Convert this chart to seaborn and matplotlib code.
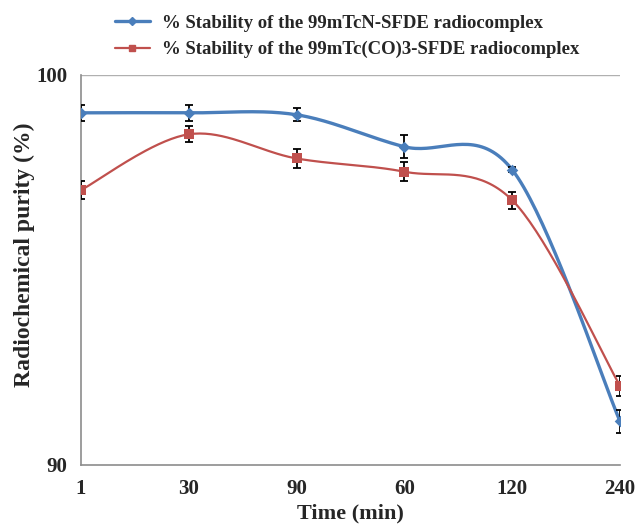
import numpy as np
import pandas as pd
import matplotlib
matplotlib.use("Agg")
import matplotlib.pyplot as plt
from matplotlib.lines import Line2D
import seaborn as sns

# data
time_labels = ["1", "30", "90", "60", "120", "240"]
tcn_sfde = [99.03, 99.03, 98.98, 98.16, 97.57, 91.12]
tcn_sfde_err = [0.20, 0.20, 0.17, 0.30, 0.06, 0.30]
tcco_sfde = [97.05, 98.48, 97.86, 97.52, 96.79, 92.03]
tcco_sfde_err = [0.22, 0.20, 0.25, 0.25, 0.22, 0.25]

BLUE = "#4A7EBB"
RED = "#C0504D"
GRAY = "#8C8C8C"


def excel_smooth(values, n=40):
    """Bezier smoothing like Excel's 'smoothed line' option."""
    x = np.arange(len(values), dtype=float)
    pts = np.column_stack([x, np.asarray(values, dtype=float)])
    ext = np.vstack([pts[0], pts, pts[-1]])
    t = np.linspace(0, 1, n)[:, None]
    out = []
    for i in range(len(pts) - 1):
        p0, p3 = ext[i + 1], ext[i + 2]
        p1 = p0 + (ext[i + 2] - ext[i]) / 6
        p2 = p3 - (ext[i + 3] - ext[i + 1]) / 6
        seg = (1 - t) ** 3 * p0 + 3 * (1 - t) ** 2 * t * p1 + 3 * (1 - t) * t ** 2 * p2 + t ** 3 * p3
        out.append(seg if i == 0 else seg[1:])
    return np.vstack(out)


sns.set_style("white")
plt.rcParams["font.family"] = ["Liberation Serif", "DejaVu Serif"]
plt.rcParams["font.weight"] = "bold"

fig = plt.figure(figsize=(6.36, 5.26), dpi=100)
ax = fig.add_axes([81 / 636, 1 - 465 / 526, (620 - 81) / 636, (465 - 75) / 526])

ax.axhline(100, color="#B0B0B0", lw=1, zorder=0)

series = [
    (tcn_sfde, tcn_sfde_err, BLUE, "D", 2.4, 5),
    (tcco_sfde, tcco_sfde_err, RED, "s", 1.6, 5.5),
]
xpos = np.arange(len(time_labels))
for vals, errs, color, marker, lw, ms in series:
    curve = excel_smooth(vals)
    sns.lineplot(x=curve[:, 0], y=curve[:, 1], sort=False, color=color, lw=lw, ax=ax, zorder=2)
    ax.errorbar(xpos, vals, yerr=errs, fmt="none", ecolor="black", elinewidth=1.3,
                capsize=3, capthick=1.3, zorder=3)
    df = pd.DataFrame({"x": xpos, "y": vals})
    sns.scatterplot(data=df, x="x", y="y", marker=marker, color=color, s=ms ** 2 * 1.4,
                    edgecolor=color, linewidth=0, ax=ax, zorder=4)

ax.set_xlim(0, len(time_labels) - 1)
ax.set_ylim(90, 100)
ax.set_xticks(xpos)
ax.set_xticklabels(time_labels, fontsize=15, fontweight="bold")
ax.set_yticks([90, 100])
ax.set_yticklabels(["90", "100"], fontsize=15, fontweight="bold")
ax.tick_params(axis="both", direction="out", length=6, width=1, color=GRAY, pad=4)

for side in ["top", "right"]:
    ax.spines[side].set_visible(False)
for side in ["left", "bottom"]:
    ax.spines[side].set_color(GRAY)
    ax.spines[side].set_linewidth(1.2)

ax.set_xlabel("Time (min)", fontsize=16, fontweight="bold", labelpad=3)
ax.set_ylabel("Radiochemical purity (%)", fontsize=17, fontweight="bold")
ax.yaxis.set_label_coords(-0.085, 0.538)

handles = [
    Line2D([], [], color=BLUE, lw=2.4, marker="D", ms=4.5),
    Line2D([], [], color=RED, lw=1.6, marker="s", ms=5),
]
labels = [
    "% Stability of the 99mTcN-SFDE radiocomplex",
    "% Stability of the 99mTc(CO)3-SFDE radiocomplex",
]
fig.legend(handles, labels, loc="upper left", bbox_to_anchor=(107 / 636, 1 - 7 / 526),
           frameon=False, prop={"size": 13.5, "weight": "bold"}, handlelength=1.9,
           handletextpad=0.65, labelspacing=0.5, borderaxespad=0)

fig.savefig("out.png", dpi=100)
